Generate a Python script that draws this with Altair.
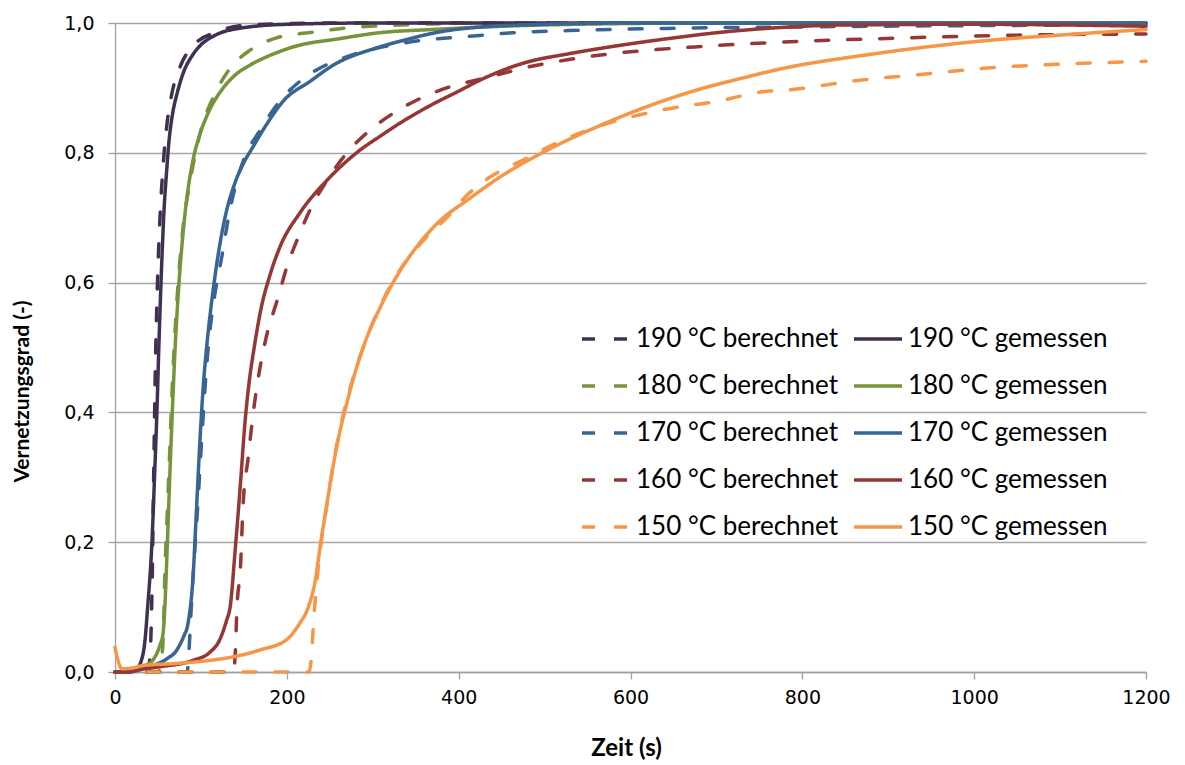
import altair as alt
import pandas as pd

# ---- data (t in s, v = Vernetzungsgrad) ----
t_190_ber = [0, 38, 41, 43, 45, 47, 49, 52, 56, 61, 66, 75, 91, 118, 157, 250, 1200]
v_190_ber = [0, 0, 0.03, 0.12, 0.30, 0.47, 0.58, 0.69, 0.78, 0.85, 0.89, 0.93, 0.965, 0.986, 0.997, 1.0, 1.0]

t_190_gem = [0, 15, 25, 30, 35, 38, 43, 46, 49, 51, 53, 55, 57, 60, 63, 67, 72, 80, 90, 99, 115, 137, 200, 300, 1200]
v_190_gem = [0, 0, 0.005, 0.015, 0.05, 0.10, 0.20, 0.30, 0.41, 0.50, 0.58, 0.65, 0.71, 0.77, 0.82, 0.86, 0.89, 0.925, 0.95, 0.965, 0.98, 0.99, 0.998, 1.0, 1.0]

t_180_ber = [0, 50, 54, 56, 58, 61, 64, 67, 71, 78, 88, 99, 116, 134, 157, 188, 231, 285, 332, 450, 1200]
v_180_ber = [0, 0, 0.02, 0.05, 0.15, 0.25, 0.35, 0.45, 0.55, 0.67, 0.76, 0.83, 0.89, 0.93, 0.958, 0.977, 0.986, 0.994, 0.997, 1.0, 1.0]

t_180_gem = [0, 15, 25, 35, 45, 52, 56, 58, 61, 64, 67, 70, 74, 81, 91, 98, 108, 126, 140, 157, 184, 207, 262, 308, 370, 500, 700, 1200]
v_180_gem = [0, 0, 0.005, 0.01, 0.02, 0.04, 0.06, 0.10, 0.20, 0.31, 0.41, 0.50, 0.59, 0.70, 0.79, 0.825, 0.86, 0.90, 0.92, 0.935, 0.952, 0.963, 0.976, 0.985, 0.99, 0.997, 1.0, 1.0]

t_170_ber = [0, 84, 86, 88, 91, 96, 101, 106, 110, 116, 125, 132, 140, 150, 169, 192, 215, 235, 270, 340, 417, 463, 549, 658, 800, 1000, 1200]
v_170_ber = [0, 0, 0.03, 0.08, 0.15, 0.25, 0.36, 0.46, 0.52, 0.58, 0.645, 0.70, 0.748, 0.79, 0.835, 0.88, 0.91, 0.928, 0.948, 0.97, 0.98, 0.985, 0.989, 0.992, 0.994, 0.996, 0.997]

t_170_gem = [0, 15, 30, 44, 60, 72, 80, 85, 91, 95, 99, 103, 107, 112, 118, 128, 140, 150, 161, 177, 196, 227, 254, 308, 332, 386, 410, 500, 600, 1200]
v_170_gem = [0, 0, 0.004, 0.01, 0.02, 0.034, 0.055, 0.075, 0.15, 0.255, 0.36, 0.445, 0.505, 0.565, 0.625, 0.70, 0.755, 0.785, 0.81, 0.845, 0.88, 0.91, 0.935, 0.963, 0.972, 0.988, 0.992, 0.998, 1.0, 1.0]

t_160_ber = [0, 138, 140, 142, 146, 149, 155, 161, 167, 175, 190, 200, 212, 230, 247, 270, 297, 324, 351, 386, 430, 491, 530, 573, 611, 685, 766, 920, 1038, 1200]
v_160_ber = [0, 0, 0.03, 0.10, 0.16, 0.255, 0.33, 0.40, 0.455, 0.51, 0.578, 0.624, 0.666, 0.72, 0.758, 0.80, 0.835, 0.861, 0.881, 0.90, 0.915, 0.935, 0.944, 0.952, 0.957, 0.964, 0.97, 0.977, 0.981, 0.983]

t_160_gem = [0, 15, 30, 52, 91, 110, 122, 130, 134, 140, 146, 151, 156, 162, 170, 180, 192, 215, 247, 285, 308, 332, 370, 400, 425, 475, 530, 580, 650, 700, 774, 850, 1000, 1200]
v_160_gem = [0, 0, 0.004, 0.008, 0.018, 0.03, 0.05, 0.08, 0.10, 0.19, 0.29, 0.38, 0.445, 0.50, 0.56, 0.61, 0.655, 0.707, 0.758, 0.804, 0.825, 0.846, 0.875, 0.895, 0.912, 0.938, 0.953, 0.964, 0.977, 0.985, 0.993, 0.997, 0.998, 0.995]

t_150_ber = [0, 226, 229, 231, 235, 240, 247, 254, 262, 270, 280, 293, 308, 328, 359, 386, 410, 437, 475, 514, 580, 619, 658, 696, 754, 786, 861, 940, 1019, 1109, 1200]
v_150_ber = [0, 0, 0.03, 0.075, 0.14, 0.20, 0.26, 0.32, 0.375, 0.42, 0.465, 0.515, 0.562, 0.612, 0.665, 0.70, 0.735, 0.763, 0.789, 0.815, 0.848, 0.861, 0.871, 0.878, 0.894, 0.897, 0.911, 0.921, 0.931, 0.937, 0.941]

t_150_gem = [0, 3, 8, 20, 33, 70, 111, 140, 169, 200, 215, 225, 233, 239, 247, 254, 262, 270, 277, 285, 293, 308, 328, 351, 378, 410, 445, 503, 561, 619, 678, 736, 774, 881, 999, 1118, 1200]
v_150_gem = [0.038, 0.02, 0.005, 0.006, 0.01, 0.013, 0.018, 0.024, 0.034, 0.05, 0.075, 0.10, 0.14, 0.195, 0.262, 0.318, 0.372, 0.415, 0.45, 0.485, 0.515, 0.56, 0.61, 0.655, 0.695, 0.727, 0.76, 0.804, 0.84, 0.871, 0.897, 0.917, 0.929, 0.952, 0.971, 0.983, 0.99]

# legend lays out column by column: all "berechnet" first, then all "gemessen"
series_names = [
    "190 °C berechnet", "180 °C berechnet", "170 °C berechnet", "160 °C berechnet", "150 °C berechnet",
    "190 °C gemessen", "180 °C gemessen", "170 °C gemessen", "160 °C gemessen", "150 °C gemessen",
]
series_t = [t_190_ber, t_180_ber, t_170_ber, t_160_ber, t_150_ber,
            t_190_gem, t_180_gem, t_170_gem, t_160_gem, t_150_gem]
series_v = [v_190_ber, v_180_ber, v_170_ber, v_160_ber, v_150_ber,
            v_190_gem, v_180_gem, v_170_gem, v_160_gem, v_150_gem]

base_colors = ["#403152", "#77933C", "#386594", "#953735", "#F79646"]
colors = base_colors + base_colors
dashes = [[13, 19] if "berechnet" in s else [1, 0] for s in series_names]

x_ticks = [0, 200, 400, 600, 800, 1000, 1200]
y_ticks = [0, 0.2, 0.4, 0.6, 0.8, 1.0]

rows = []
for name, ts, vs in zip(series_names, series_t, series_v):
    for i, (t, v) in enumerate(zip(ts, vs)):
        rows.append({"series": name, "t": t, "v": v, "i": i})
df = pd.DataFrame(rows)

legend = alt.Legend(
    title=None, orient="none", legendX=465, legendY=290, columns=2,
    symbolType="stroke", symbolSize=2304, symbolStrokeWidth=3.5,
    labelFont="Lato", labelFontSize=26, labelColor="black", labelOffset=4,
    rowPadding=8, columnPadding=8, labelLimit=400,
)

chart = alt.Chart(df).mark_line(
    strokeWidth=3.5, strokeCap="round", interpolate="monotone"
).encode(
    x=alt.X("t:Q", scale=alt.Scale(domain=[0, 1200], nice=False, zero=False),
            axis=alt.Axis(values=x_ticks, grid=False, title="Zeit (s)", format="d",
                          tickSize=7, labelPadding=9, titleFontSize=24,
                          labelFlush=False, labelOverlap=False,
                          titleX=511, titleY=76, titleBaseline="middle")),
    y=alt.Y("v:Q", scale=alt.Scale(domain=[0, 1], nice=False),
            axis=alt.Axis(values=y_ticks, grid=True, title="Vernetzungsgrad (-)",
                          labelExpr="replace(format(datum.value, '.1f'), '.', ',')",
                          tickSize=7, labelPadding=14, titleFontSize=21,
                          labelFlush=False, labelOverlap=False,
                          titleX=-93, titleY=368, titleAngle=270,
                          titleAlign="center", titleBaseline="middle")),
    color=alt.Color("series:N", scale=alt.Scale(domain=series_names, range=colors),
                    sort=series_names, legend=legend),
    strokeDash=alt.StrokeDash("series:N", scale=alt.Scale(domain=series_names, range=dashes),
                              sort=series_names, legend=legend),
    order=alt.Order("i:Q"),
).properties(
    width=1031, height=649, autosize="none",
    padding={"left": 115, "top": 23, "right": 39, "bottom": 93},
).configure_view(stroke=None).configure_axis(
    domainColor="#A0A0A0", tickColor="#A0A0A0", gridColor="#A6A6A6",
    domainWidth=1.3, tickWidth=1.3, gridWidth=1.3,
    labelFont="DejaVu Sans", labelFontSize=19, labelColor="black",
    titleFont="Lato", titleFontSize=20, titleFontWeight="bold", titleColor="black",
)

chart.save("out.html", embed_options={"renderer": "svg", "actions": False})
